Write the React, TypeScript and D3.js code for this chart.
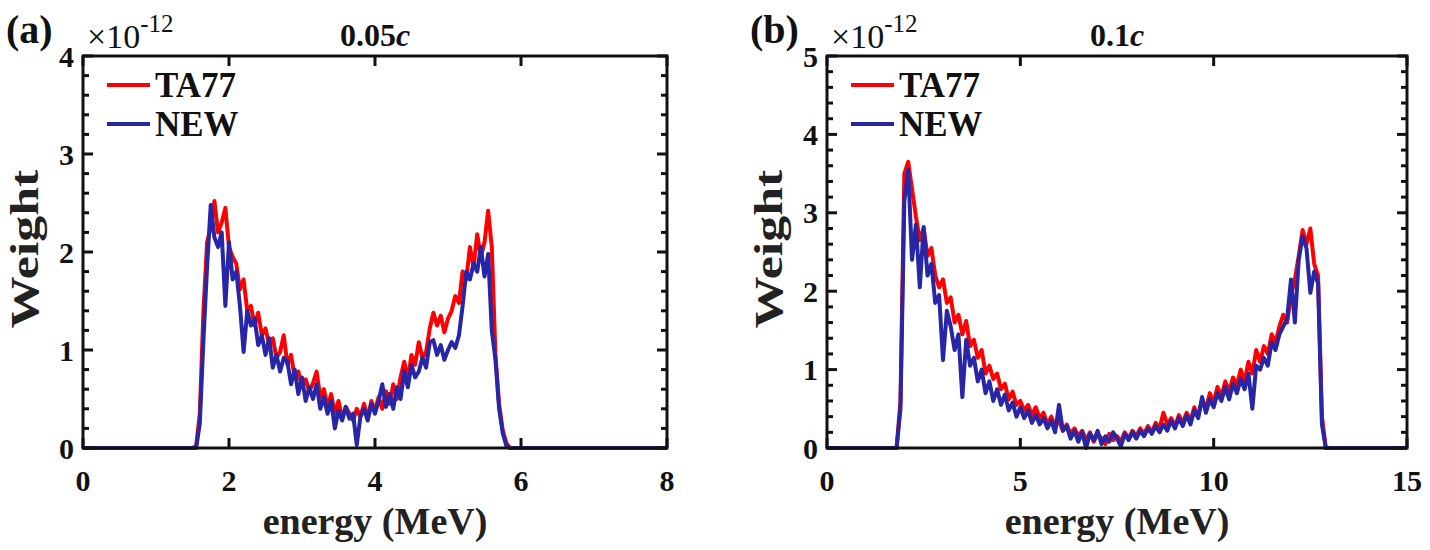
import { useEffect } from "react";
import * as d3 from "d3";

// histogram bins: panel (a) starts at 1.50 MeV, width 0.05; panel (b) starts at 1.8 MeV, width 0.1
const BIN_A_START = 1.5;
const BIN_A_STEP = 0.05;
const BIN_B_START = 1.8;
const BIN_B_STEP = 0.1;

// weights in units of 1e-12
const TA77_A = [
  0, 0.02, 0.35, 1.4, 2.1, 2.25, 2.52, 2.2, 2.3, 2.45,
  2.05, 1.95, 1.88, 1.62, 1.72, 1.4, 1.45, 1.25, 1.38, 1.15,
  1.22, 1.05, 1.12, 0.92, 0.98, 1.15, 0.85, 0.95, 0.72, 0.78,
  0.62, 0.7, 0.58, 0.66, 0.78, 0.52, 0.6, 0.42, 0.55, 0.35,
  0.48, 0.3, 0.42, 0.35, 0.28, 0.4, 0.32, 0.45, 0.3, 0.48,
  0.38, 0.52, 0.4, 0.58, 0.45, 0.65, 0.5, 0.72, 0.88, 0.7,
  0.95, 0.85, 1.08, 0.92, 0.98, 1.22, 1.38, 1.25, 1.35, 1.18,
  1.32, 1.4, 1.55, 1.48, 1.8, 1.72, 2.05, 1.85, 2.18, 1.95,
  2.1, 2.42, 2.05, 0.95, 0.45, 0.18, 0.05, 0, 0,
];
const NEW_A = [
  0, 0, 0.25, 1.1, 1.85, 2.48, 2.15, 2.05, 2.2, 1.45,
  2.1, 1.72, 1.8, 1.45, 0.98, 1.4, 1.25, 1.32, 1.05, 1.15,
  0.95, 1.12, 0.82, 0.95, 0.78, 0.92, 0.88, 0.65, 0.8, 0.55,
  0.72, 0.48, 0.62, 0.5, 0.65, 0.4, 0.52, 0.35, 0.48, 0.2,
  0.38, 0.28, 0.42, 0.3, 0.35, 0.03, 0.32, 0.4, 0.28, 0.45,
  0.35, 0.48, 0.65, 0.42, 0.55, 0.4, 0.62, 0.5, 0.78, 0.62,
  0.85, 0.72, 0.78, 0.92, 0.82, 1.08, 1.1, 0.95, 1.05, 0.9,
  1.0, 1.08, 1.02, 1.15, 1.45, 1.8, 1.72, 1.88, 1.8, 2.05,
  1.75, 1.98, 1.2, 0.9, 0.4, 0.15, 0.02, 0, 0,
];
const TA77_B = [
  0, 0.6, 3.5, 3.65, 3.3, 2.95, 2.65, 2.8, 2.45, 2.55,
  2.2, 2.05, 2.15, 1.85, 1.92, 1.6, 1.7, 1.45, 1.62, 1.3,
  1.38, 1.15, 1.25, 0.95, 1.05, 0.88, 0.95, 0.75, 0.82, 0.62,
  0.72, 0.55, 0.6, 0.48, 0.55, 0.42, 0.52, 0.38, 0.45, 0.3,
  0.4, 0.28, 0.35, 0.22, 0.3, 0.18, 0.25, 0.15, 0.22, 0.1,
  0.2, 0.08, 0.18, 0.12, 0.05, 0.18, 0.1, 0.15, 0.08, 0.2,
  0.12, 0.22, 0.15, 0.25, 0.18, 0.28, 0.2, 0.32, 0.25, 0.45,
  0.3, 0.38, 0.28, 0.42, 0.32, 0.45, 0.35, 0.52, 0.4, 0.62,
  0.5, 0.7, 0.58, 0.78, 0.65, 0.85, 0.72, 0.9, 0.8, 1.0,
  0.85, 1.1, 0.95, 1.25, 1.1, 1.3, 1.2, 1.45, 1.35, 1.55,
  1.7, 1.6, 1.95, 2.15, 2.45, 2.78, 2.6, 2.8, 2.35, 2.2,
  0.4, 0,
];
const NEW_B = [
  0, 0.5, 3.15, 3.55, 2.4, 2.85, 2.05, 2.82, 2.2, 2.35,
  1.85, 1.95, 1.12, 1.75, 1.55, 1.25, 1.45, 0.65, 1.38, 1.05,
  1.15, 0.85, 1.0, 0.7, 0.85, 0.6, 0.75, 0.55, 0.68, 0.48,
  0.58, 0.4, 0.52, 0.38, 0.48, 0.32, 0.42, 0.3, 0.38, 0.25,
  0.35, 0.2, 0.55, 0.22, 0.28, 0.12, 0.22, 0.08, 0.2, 0,
  0.18, 0.1, 0.22, 0.05, 0.15, 0.08, 0.2, 0.12, 0.02, 0.18,
  0.1, 0.2, 0.12, 0.22, 0.15, 0.25, 0.18, 0.28, 0.2, 0.3,
  0.22, 0.35, 0.25, 0.38, 0.28, 0.42, 0.3, 0.48, 0.38, 0.65,
  0.45, 0.62, 0.52, 0.7, 0.6, 0.78, 0.62, 0.82, 0.7, 0.88,
  0.75, 0.95, 0.5, 1.05, 1.0, 1.15, 1.05, 1.35, 1.25, 1.45,
  1.55, 1.65, 2.15, 1.6, 2.4, 2.7, 2.55, 1.98, 2.25, 2.1,
  0.3, 0,
];

const X_TICKS_A = [0, 2, 4, 6, 8];
const Y_TICKS_A = [0, 1, 2, 3, 4];
const X_TICKS_B = [0, 5, 10, 15];
const Y_TICKS_B = [0, 1, 2, 3, 4, 5];

const RED = "#ff0000";
const BLUE = "#2626a6";
const FONT = "'Liberation Serif', 'Times New Roman', serif";

type Pt = [number, number];

function toPoints(start: number, step: number, vals: number[], xMax: number): Pt[] {
  const pts: Pt[] = [[0, 0]];
  vals.forEach((v, i) => pts.push([start + i * step, v]));
  pts.push([xMax, 0]);
  return pts;
}

interface PanelProps {
  left: number;
  right: number;
  top: number;
  bottom: number;
  xTicks: number[];
  yTicks: number[];
  tag: string;
  title: string;
  red: Pt[];
  blue: Pt[];
}

function Panel({ left, right, top, bottom, xTicks, yTicks, tag, title, red, blue }: PanelProps) {
  const xMax = xTicks[xTicks.length - 1];
  const yMax = yTicks[yTicks.length - 1];
  const x = d3.scaleLinear().domain([0, xMax]).range([left, right]);
  const y = d3.scaleLinear().domain([0, yMax]).range([bottom, top]);
  const line = d3.line<Pt>().x(d => x(d[0])).y(d => y(d[1]));
  const minor = d3.range(0, yMax + 1e-9, 0.2).filter(v => Math.abs(v - Math.round(v)) > 1e-6);
  const cx = (left + right) / 2;
  const cy = (top + bottom) / 2;

  return (
    <g fontFamily={FONT}>
      <path d={line(red) ?? ""} fill="none" stroke={RED} strokeWidth={4} strokeLinejoin="round" />
      <path d={line(blue) ?? ""} fill="none" stroke={BLUE} strokeWidth={4} strokeLinejoin="round" />

      {/* y ticks, both sides */}
      {yTicks.map(t => (
        <g key={"y" + t}>
          <line x1={left} x2={left + 10} y1={y(t)} y2={y(t)} stroke="#111" strokeWidth={3} />
          <line x1={right} x2={right - 10} y1={y(t)} y2={y(t)} stroke="#111" strokeWidth={3} />
          <text x={left - 9} y={y(t)} dy="0.35em" textAnchor="end" fontSize={30} fontWeight="bold" fill="#111">{t}</text>
        </g>
      ))}
      {minor.map(t => (
        <g key={"m" + t}>
          <line x1={left} x2={left + 6} y1={y(t)} y2={y(t)} stroke="#111" strokeWidth={3} />
          <line x1={right} x2={right - 6} y1={y(t)} y2={y(t)} stroke="#111" strokeWidth={3} />
        </g>
      ))}
      {/* x ticks, top and bottom */}
      {xTicks.map(t => (
        <g key={"x" + t}>
          <line x1={x(t)} x2={x(t)} y1={bottom} y2={bottom - 10} stroke="#111" strokeWidth={3} />
          <line x1={x(t)} x2={x(t)} y1={top} y2={top + 10} stroke="#111" strokeWidth={3} />
          <text x={x(t)} y={bottom + 43} textAnchor="middle" fontSize={30} fontWeight="bold" fill="#111">{t}</text>
        </g>
      ))}
      <rect x={left} y={top} width={right - left} height={bottom - top} fill="none" stroke="#111" strokeWidth={3} />

      {/* legend */}
      <line x1={left + 24} x2={left + 67} y1={top + 29} y2={top + 29} stroke={RED} strokeWidth={4} />
      <text x={left + 72} y={top + 41} fontSize={35} fontWeight="bold" fill="#111">TA77</text>
      <line x1={left + 24} x2={left + 67} y1={top + 68} y2={top + 68} stroke={BLUE} strokeWidth={4} />
      <text x={left + 72} y={top + 80} fontSize={35} fontWeight="bold" fill="#111">NEW</text>

      {/* labels */}
      <text x={cx} y={bottom + 86} textAnchor="middle" fontSize={38} fontWeight="bold" fill="#222">energy (MeV)</text>
      <text transform={`translate(${left - 45},${cy - 3}) rotate(-90) scale(1.3,1)`} textAnchor="middle" fontSize={40} fontWeight="bold" fill="#222">Weight</text>
      <text x={left - 77} y={top - 13} fontSize={40} fontWeight="bold" fill="#111">{tag}</text>
      <text x={left + 4} y={top - 8} fontSize={34} fill="#111">
        ×10<tspan dy={-16} fontSize={25}>-12</tspan>
      </text>
      <text x={cx} y={top - 10} textAnchor="middle" fontSize={32} fontWeight="bold" fill="#111">
        {title}<tspan fontStyle="italic">c</tspan>
      </text>
    </g>
  );
}

export default function App() {
  useEffect(() => {
    document.body.style.margin = "0";
  }, []);

  const redA = toPoints(BIN_A_START, BIN_A_STEP, TA77_A, 8);
  const blueA = toPoints(BIN_A_START, BIN_A_STEP, NEW_A, 8);
  const redB = toPoints(BIN_B_START, BIN_B_STEP, TA77_B, 15);
  const blueB = toPoints(BIN_B_START, BIN_B_STEP, NEW_B, 15);

  return (
    <svg width={1430} height={550} style={{ display: "block", background: "#fff" }}>
      <Panel left={83} right={667} top={56} bottom={448} xTicks={X_TICKS_A} yTicks={Y_TICKS_A}
        tag="(a)" title="0.05" red={redA} blue={blueA} />
      <Panel left={827} right={1407} top={56} bottom={448} xTicks={X_TICKS_B} yTicks={Y_TICKS_B}
        tag="(b)" title="0.1" red={redB} blue={blueB} />
    </svg>
  );
}
